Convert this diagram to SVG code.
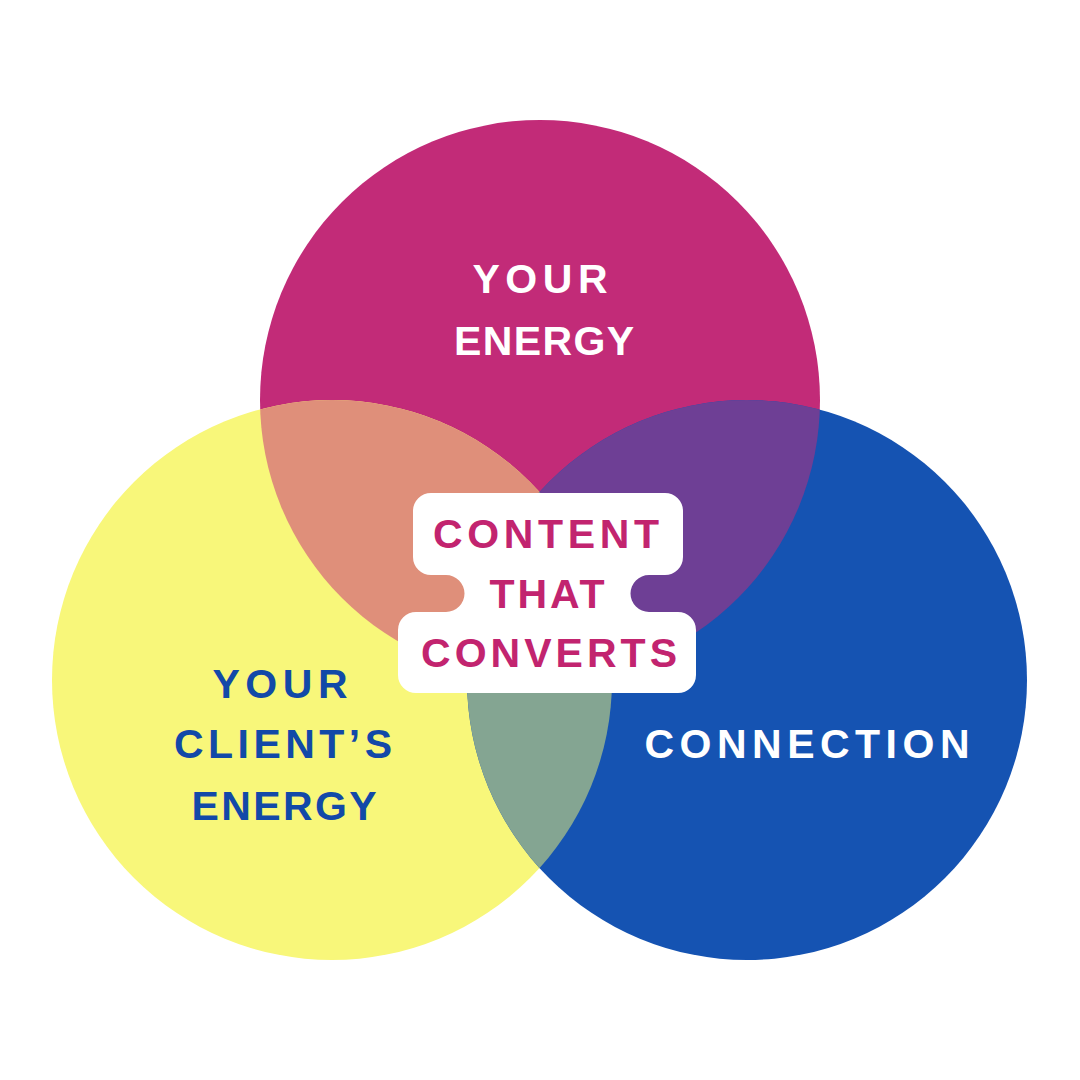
<svg xmlns="http://www.w3.org/2000/svg" width="1080" height="1080" viewBox="0 0 1080 1080">
<style>
.lbl{font-family:"Liberation Sans",Arial,sans-serif;font-weight:700;font-size:41px;text-anchor:middle}
.w{fill:#FFFFFF}
.b{fill:#1249A8}
.m{fill:#C2246F}
</style>
<defs>
<clipPath id="clipM"><circle cx="540" cy="400" r="280"/></clipPath>
<clipPath id="clipY"><circle cx="332" cy="680" r="280"/></clipPath>
</defs>
<rect width="1080" height="1080" fill="#FFFFFF"/>
<g id="circle-your-energy">
<circle cx="540" cy="400" r="280" fill="#C22B78"/>
</g>
<g id="circle-client-energy">
<circle cx="332" cy="680" r="280" fill="#F8F77A"/>
</g>
<g id="circle-connection">
<circle cx="747" cy="680" r="280" fill="#1553B2"/>
</g>
<g id="overlaps">
<circle cx="332" cy="680" r="280" fill="#DF8F7A" clip-path="url(#clipM)"/>
<circle cx="747" cy="680" r="280" fill="#6E3F95" clip-path="url(#clipM)"/>
<circle cx="747" cy="680" r="280" fill="#84A592" clip-path="url(#clipY)"/>
</g>
<g id="text-your-energy">
<text class="lbl w" x="540" y="293" textLength="135" lengthAdjust="spacing">YOUR</text>
<text class="lbl w" x="544" y="355" textLength="180" lengthAdjust="spacing">ENERGY</text>
</g>
<g id="text-client-energy">
<text class="lbl b" x="280" y="698" textLength="135" lengthAdjust="spacing">YOUR</text>
<text class="lbl b" x="283" y="758" textLength="218" lengthAdjust="spacing">CLIENT’S</text>
<text class="lbl b" x="284" y="820" textLength="185" lengthAdjust="spacing">ENERGY</text>
</g>
<g id="text-connection">
<text class="lbl w" x="807" y="758" textLength="325" lengthAdjust="spacing">CONNECTION</text>
</g>
<g id="center-label">
<path fill="#FFFFFF" d="M431,493 H665 A18,18 0 0 1 683,511 V557 A18,18 0 0 1 665,575 H649 A18.5,18.5 0 0 0 649,612 H678 A18,18 0 0 1 696,630 V675 A18,18 0 0 1 678,693 H416 A18,18 0 0 1 398,675 V630 A18,18 0 0 1 416,612 H446 A18.5,18.5 0 0 0 446,575 H431 A18,18 0 0 1 413,557 V511 A18,18 0 0 1 431,493 Z"/>
<text class="lbl m" x="546" y="548" textLength="226" lengthAdjust="spacing">CONTENT</text>
<text class="lbl m" x="547" y="608" textLength="115" lengthAdjust="spacing">THAT</text>
<text class="lbl m" x="549" y="667" textLength="256" lengthAdjust="spacing">CONVERTS</text>
</g>
</svg>
